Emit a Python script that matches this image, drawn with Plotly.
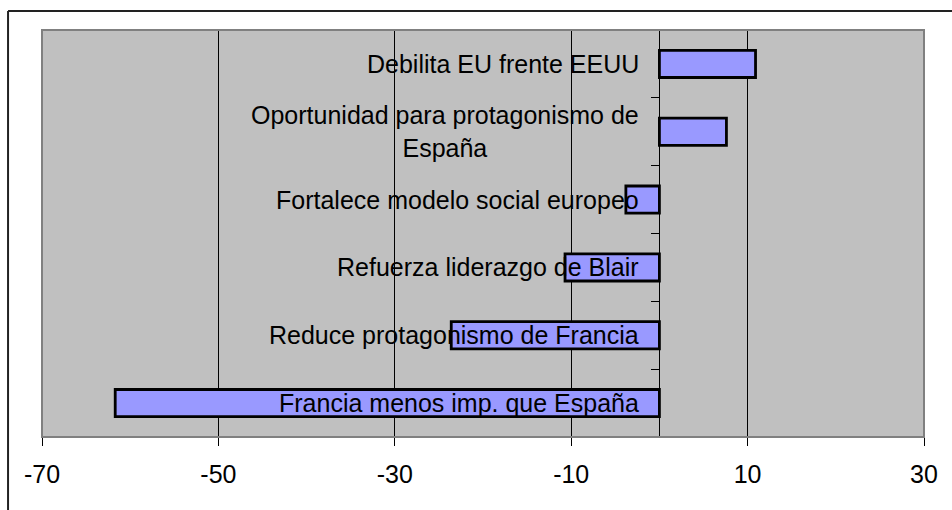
import plotly.graph_objects as go

# Survey items (top to bottom) and their net scores
categories = [
    "Debilita EU frente EEUU",
    "Oportunidad para protagonismo de<br>España",
    "Fortalece modelo social europeo",
    "Refuerza liderazgo de Blair",
    "Reduce protagonismo de Francia",
    "Francia menos imp. que España",
]
values = [10.9, 7.6, -3.8, -10.7, -23.6, -61.7]
x_ticks = [-70, -50, -30, -10, 10, 30]

FONT = "Liberation Sans, Arial, sans-serif"

fig = go.Figure(
    go.Bar(
        x=values,
        y=categories,
        orientation="h",
        width=0.4,
        marker=dict(color="#9999FF", line=dict(color="black", width=2.8)),
        hoverinfo="x+y",
    )
)

# Category labels sit just left of the zero axis, on top of the bars
for cat in categories:
    fig.add_annotation(
        x=0, y=cat, xref="x", yref="y",
        text=cat, showarrow=False,
        xanchor="right", yanchor="middle", align="center",
        xshift=-18,
        font=dict(family=FONT, size=25, color="black"),
    )

# Plot-area border (grey) and the outer chart frame
fig.add_shape(type="rect", xref="paper", yref="paper", x0=0, x1=1, y0=0, y1=1,
              line=dict(color="#808080", width=2), layer="above")
fig.add_shape(type="line", xref="paper", yref="paper", x0=-0.0385, x1=1.2,
              y0=1.0467, y1=1.0467, line=dict(color="#222222", width=2))
fig.add_shape(type="line", xref="paper", yref="paper", x0=-0.0385, x1=-0.0385,
              y0=1.0467, y1=-0.4, line=dict(color="#222222", width=2))

fig.update_layout(
    width=952, height=510,
    margin=dict(l=42, r=28, t=30, b=73),
    paper_bgcolor="white",
    plot_bgcolor="#C0C0C0",
    showlegend=False,
    font=dict(family=FONT, size=25, color="black"),
    xaxis=dict(
        range=[-70, 30],
        tickvals=x_ticks,
        ticktext=[str(v) for v in x_ticks],
        ticks="outside", ticklen=8, tickcolor="black", tickwidth=1,
        showline=True, linecolor="black", linewidth=1,
        showgrid=True, gridcolor="black", gridwidth=1,
        zeroline=False,
        ticklabelstandoff=7,
        tickfont=dict(family=FONT, size=25, color="black"),
        fixedrange=True,
    ),
    yaxis=dict(
        categoryorder="array",
        categoryarray=categories[::-1],
        range=[-0.5, 5.5],
        anchor="free", position=0.7,
        showline=True, linecolor="black", linewidth=1,
        ticks="outside", ticklen=8, tickcolor="black", tickwidth=1,
        tickson="boundaries",
        showticklabels=False,
        showgrid=False, zeroline=False,
        fixedrange=True,
    ),
)

fig.write_html("out.html")
